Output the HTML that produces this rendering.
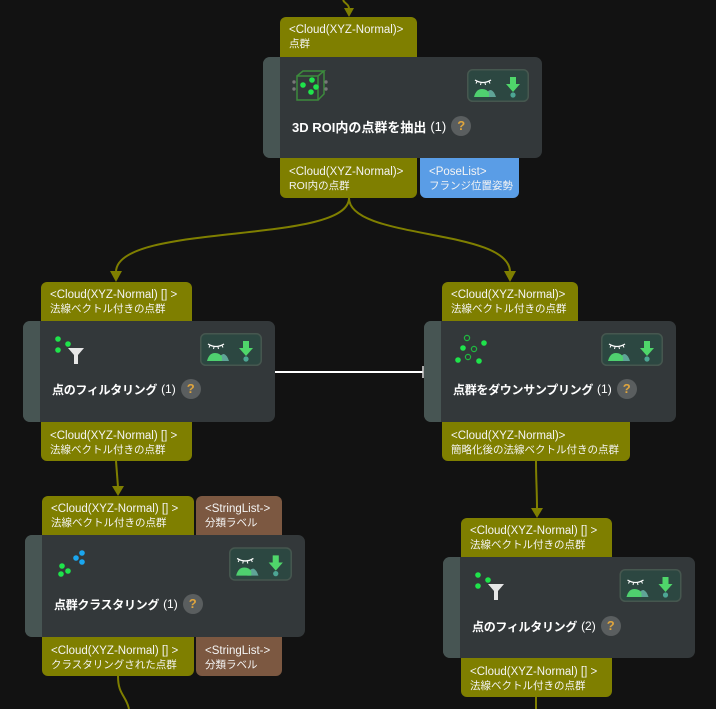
<!DOCTYPE html>
<html><head><meta charset="utf-8">
<style>
html,body{margin:0;padding:0;background:#121212;}
#c{position:relative;width:716px;height:709px;overflow:hidden;background:#121212;font-family:"Liberation Sans","Noto Sans CJK JP",sans-serif;color:#fff;}
.node{position:absolute;background:#33383a;border-radius:7px;overflow:hidden;}
.stripe{position:absolute;left:0;top:0;bottom:0;width:17px;background:#475553;}
.lbl{position:absolute;color:#f4f4f4;}
.olive{background:#7f7f00;}
.blue{background:#5a9de6;}
.brown{background:#7c5841;}
.top{border-radius:6px 6px 0 0;}
.bot{border-radius:0 0 6px 6px;}
.l1{position:absolute;left:9px;font-size:11.5px;line-height:14px;white-space:nowrap;}
.l2{position:absolute;left:9px;font-size:10.5px;line-height:14px;white-space:nowrap;}
.top .l1{top:6px}.top .l2{top:20px}
.bot .l1{top:7px}.bot .l2{top:21px}
.title{position:absolute;display:flex;align-items:center;height:20px;font-weight:bold;font-size:12px;letter-spacing:-0.3px;white-space:nowrap;color:#fff;}
.title .n{font-weight:normal;font-size:12px;letter-spacing:0;margin-left:4px;}
.q{display:inline-block;margin-left:5px;width:20px;height:20px;border-radius:50%;background:#5a5e5f;color:#dfa53e;font-weight:bold;font-size:13px;line-height:20px;text-align:center;letter-spacing:0;}
svg{position:absolute;}
</style></head><body>
<div id="c">
<svg width="716" height="709" style="left:0;top:0" viewBox="0 0 716 709">
 <g fill="none" stroke="#7f7f00" stroke-width="2">
  <path d="M343,0 C345,4 349,4 349,9"/>
  <path d="M349,198 C349,245 116,222 116,272"/>
  <path d="M349,198 C349,240 510,228 510,272"/>
  <path d="M116,461 L118,487"/>
  <path d="M536,461 C536,480 537,490 537,509"/>
  <path d="M118,676 C118,695 126,695 129,709"/>
  <path d="M536,697 L536,709"/>
 </g>
 <g fill="#7f7f00">
  <polygon points="344,8 354,8 349,17"/>
  <polygon points="110,271 122,271 116,282"/>
  <polygon points="504,271 516,271 510,282"/>
  <polygon points="112,486 124,486 118,496"/>
  <polygon points="531,508 543,508 537,518"/>
 </g>
 <line x1="275" y1="372" x2="423" y2="372" stroke="#fff" stroke-width="2"/>
 <line x1="423" y1="366" x2="423" y2="378" stroke="#ddd" stroke-width="1.5"/>
</svg>

<!-- Node 1 -->
<div class="lbl olive top" style="left:280px;top:17px;width:137px;height:40px;"><div class="l1">&lt;Cloud(XYZ-Normal)&gt;</div><div class="l2">点群</div></div>
<div class="node" style="left:263px;top:57px;width:279px;height:101px;"><div class="stripe"></div></div>
<div class="lbl olive bot" style="left:280px;top:158px;width:137px;height:40px;"><div class="l1">&lt;Cloud(XYZ-Normal)&gt;</div><div class="l2">ROI内の点群</div></div>
<div class="lbl blue bot" style="left:420px;top:158px;width:99px;height:40px;"><div class="l1">&lt;PoseList&gt;</div><div class="l2">フランジ位置姿勢</div></div>
<svg style="left:292px;top:69px" width="36" height="33" viewBox="0 0 36 33">
 <g fill="none" stroke="#3c8b3c" stroke-width="1.5">
  <rect x="5" y="7" width="21" height="24"/>
  <path d="M5,7 L11,2 L32,2 L26,7 M32,2 L32,25 L26,31"/>
 </g>
 <circle cx="2" cy="13" r="1.7" fill="#777"/><circle cx="2" cy="20" r="1.7" fill="#777"/>
 <circle cx="34" cy="13" r="1.7" fill="#777"/><circle cx="34" cy="20" r="1.7" fill="#777"/>
 <g fill="#1fe34b"><circle cx="11" cy="16" r="2.8"/><circle cx="20" cy="11" r="2.8"/><circle cx="24" cy="18" r="2.8"/><circle cx="19" cy="23" r="2.8"/></g>
</svg>
<svg style="left:467px;top:69px" width="62" height="33" viewBox="0 0 62 33">
 <rect x="0.75" y="0.75" width="60.5" height="31.5" rx="5" fill="#2c4741" stroke="#46574f" stroke-width="1.5"/>
 <path d="M8,11 Q16,16 24,11" stroke="#fff" fill="none" stroke-width="1.3"/>
 <path d="M10,12.5 L9,14.5 M14,14 L13.5,16 M18,14 L18.5,16 M22,12.5 L23,14.5" stroke="#fff" stroke-width="1"/>
 <path d="M18,28 Q20,21 24,21 Q27,22 29,28 Z" fill="#5fa497"/>
 <path d="M7,28 Q9,20 15,20 Q20,20 22,24 L22,28 Z" fill="#4fd06f"/>
 <path d="M43,8 h6 v7 h4 l-7,8 l-7,-8 h4 z" fill="#4fd66a"/>
 <circle cx="46" cy="26" r="2.6" fill="#4da594"/>
</svg>
<div class="title" style="left:292px;top:116px;font-size:13px;letter-spacing:0;">3D ROI内の点群を抽出<span class="n" style="font-size:13px;">(1)</span><span class="q">?</span></div>

<!-- Node 2 -->
<div class="lbl olive top" style="left:41px;top:282px;width:151px;height:39px;"><div class="l1">&lt;Cloud(XYZ-Normal) [] &gt;</div><div class="l2">法線ベクトル付きの点群</div></div>
<div class="node" style="left:23px;top:321px;width:252px;height:101px;"><div class="stripe"></div></div>
<div class="lbl olive bot" style="left:41px;top:422px;width:151px;height:39px;"><div class="l1">&lt;Cloud(XYZ-Normal) [] &gt;</div><div class="l2">法線ベクトル付きの点群</div></div>
<svg style="left:53px;top:334px" width="34" height="32" viewBox="0 0 34 32">
 <g fill="#1fe34b"><circle cx="5" cy="5" r="2.8"/><circle cx="15" cy="10" r="2.8"/><circle cx="5" cy="16" r="2.8"/></g>
 <path d="M15,14 L31,14 L25,21 L25,30 L21,30 L21,21 Z" fill="#e6e6e6"/>
</svg>
<svg style="left:200px;top:333px" width="62" height="33" viewBox="0 0 62 33">
 <rect x="0.75" y="0.75" width="60.5" height="31.5" rx="5" fill="#2c4741" stroke="#46574f" stroke-width="1.5"/>
 <path d="M8,11 Q16,16 24,11" stroke="#fff" fill="none" stroke-width="1.3"/>
 <path d="M10,12.5 L9,14.5 M14,14 L13.5,16 M18,14 L18.5,16 M22,12.5 L23,14.5" stroke="#fff" stroke-width="1"/>
 <path d="M18,28 Q20,21 24,21 Q27,22 29,28 Z" fill="#5fa497"/>
 <path d="M7,28 Q9,20 15,20 Q20,20 22,24 L22,28 Z" fill="#4fd06f"/>
 <path d="M43,8 h6 v7 h4 l-7,8 l-7,-8 h4 z" fill="#4fd66a"/>
 <circle cx="46" cy="26" r="2.6" fill="#4da594"/>
</svg>
<div class="title" style="left:52px;top:379px;">点のフィルタリング<span class="n">(1)</span><span class="q">?</span></div>

<!-- Node 3 -->
<div class="lbl olive top" style="left:442px;top:282px;width:136px;height:39px;"><div class="l1">&lt;Cloud(XYZ-Normal)&gt;</div><div class="l2">法線ベクトル付きの点群</div></div>
<div class="node" style="left:424px;top:321px;width:252px;height:101px;"><div class="stripe"></div></div>
<div class="lbl olive bot" style="left:442px;top:422px;width:188px;height:39px;"><div class="l1">&lt;Cloud(XYZ-Normal)&gt;</div><div class="l2">簡略化後の法線ベクトル付きの点群</div></div>
<svg style="left:450px;top:332px" width="40" height="36" viewBox="0 0 40 36">
 <g fill="#1fe34b"><circle cx="13" cy="16" r="2.8"/><circle cx="34" cy="11" r="2.8"/><circle cx="8" cy="28" r="2.8"/><circle cx="29" cy="29" r="2.8"/></g>
 <g fill="none" stroke="#1fb940" stroke-width="1.2"><circle cx="17" cy="6" r="2.6"/><circle cx="24" cy="17" r="2.6"/><circle cx="18" cy="25" r="2.6"/></g>
</svg>
<svg style="left:601px;top:333px" width="62" height="33" viewBox="0 0 62 33">
 <rect x="0.75" y="0.75" width="60.5" height="31.5" rx="5" fill="#2c4741" stroke="#46574f" stroke-width="1.5"/>
 <path d="M8,11 Q16,16 24,11" stroke="#fff" fill="none" stroke-width="1.3"/>
 <path d="M10,12.5 L9,14.5 M14,14 L13.5,16 M18,14 L18.5,16 M22,12.5 L23,14.5" stroke="#fff" stroke-width="1"/>
 <path d="M18,28 Q20,21 24,21 Q27,22 29,28 Z" fill="#5fa497"/>
 <path d="M7,28 Q9,20 15,20 Q20,20 22,24 L22,28 Z" fill="#4fd06f"/>
 <path d="M43,8 h6 v7 h4 l-7,8 l-7,-8 h4 z" fill="#4fd66a"/>
 <circle cx="46" cy="26" r="2.6" fill="#4da594"/>
</svg>
<div class="title" style="left:453px;top:379px;">点群をダウンサンプリング<span class="n">(1)</span><span class="q">?</span></div>

<!-- Node 4 -->
<div class="lbl olive top" style="left:42px;top:496px;width:152px;height:39px;"><div class="l1">&lt;Cloud(XYZ-Normal) [] &gt;</div><div class="l2">法線ベクトル付きの点群</div></div>
<div class="lbl brown top" style="left:196px;top:496px;width:86px;height:39px;"><div class="l1">&lt;StringList-&gt;</div><div class="l2">分類ラベル</div></div>
<div class="node" style="left:25px;top:535px;width:280px;height:102px;"><div class="stripe"></div></div>
<div class="lbl olive bot" style="left:42px;top:637px;width:152px;height:39px;"><div class="l1">&lt;Cloud(XYZ-Normal) [] &gt;</div><div class="l2">クラスタリングされた点群</div></div>
<div class="lbl brown bot" style="left:196px;top:637px;width:86px;height:39px;"><div class="l1">&lt;StringList-&gt;</div><div class="l2">分類ラベル</div></div>
<svg style="left:55px;top:548px" width="34" height="30" viewBox="0 0 34 30">
 <g fill="#1aa6ef"><circle cx="27" cy="5" r="2.8"/><circle cx="21" cy="10" r="2.8"/><circle cx="27" cy="14" r="2.8"/></g>
 <g fill="#1fe34b"><circle cx="7" cy="18" r="2.8"/><circle cx="13" cy="23" r="2.8"/><circle cx="6" cy="26" r="2.8"/></g>
</svg>
<svg style="left:229px;top:547px" width="63" height="34" viewBox="0 0 62 33">
 <rect x="0.75" y="0.75" width="60.5" height="31.5" rx="5" fill="#2c4741" stroke="#46574f" stroke-width="1.5"/>
 <path d="M8,11 Q16,16 24,11" stroke="#fff" fill="none" stroke-width="1.3"/>
 <path d="M10,12.5 L9,14.5 M14,14 L13.5,16 M18,14 L18.5,16 M22,12.5 L23,14.5" stroke="#fff" stroke-width="1"/>
 <path d="M18,28 Q20,21 24,21 Q27,22 29,28 Z" fill="#5fa497"/>
 <path d="M7,28 Q9,20 15,20 Q20,20 22,24 L22,28 Z" fill="#4fd06f"/>
 <path d="M43,8 h6 v7 h4 l-7,8 l-7,-8 h4 z" fill="#4fd66a"/>
 <circle cx="46" cy="26" r="2.6" fill="#4da594"/>
</svg>
<div class="title" style="left:54px;top:594px;">点群クラスタリング<span class="n">(1)</span><span class="q">?</span></div>

<!-- Node 5 -->
<div class="lbl olive top" style="left:461px;top:518px;width:151px;height:39px;"><div class="l1">&lt;Cloud(XYZ-Normal) [] &gt;</div><div class="l2">法線ベクトル付きの点群</div></div>
<div class="node" style="left:443px;top:557px;width:252px;height:101px;"><div class="stripe"></div></div>
<div class="lbl olive bot" style="left:461px;top:658px;width:151px;height:39px;"><div class="l1">&lt;Cloud(XYZ-Normal) [] &gt;</div><div class="l2">法線ベクトル付きの点群</div></div>
<svg style="left:473px;top:570px" width="34" height="32" viewBox="0 0 34 32">
 <g fill="#1fe34b"><circle cx="5" cy="5" r="2.8"/><circle cx="15" cy="10" r="2.8"/><circle cx="5" cy="16" r="2.8"/></g>
 <path d="M15,14 L31,14 L25,21 L25,30 L21,30 L21,21 Z" fill="#e6e6e6"/>
</svg>
<svg style="left:619px;top:569px" width="63" height="33" viewBox="0 0 62 33">
 <rect x="0.75" y="0.75" width="60.5" height="31.5" rx="5" fill="#2c4741" stroke="#46574f" stroke-width="1.5"/>
 <path d="M8,11 Q16,16 24,11" stroke="#fff" fill="none" stroke-width="1.3"/>
 <path d="M10,12.5 L9,14.5 M14,14 L13.5,16 M18,14 L18.5,16 M22,12.5 L23,14.5" stroke="#fff" stroke-width="1"/>
 <path d="M18,28 Q20,21 24,21 Q27,22 29,28 Z" fill="#5fa497"/>
 <path d="M7,28 Q9,20 15,20 Q20,20 22,24 L22,28 Z" fill="#4fd06f"/>
 <path d="M43,8 h6 v7 h4 l-7,8 l-7,-8 h4 z" fill="#4fd66a"/>
 <circle cx="46" cy="26" r="2.6" fill="#4da594"/>
</svg>
<div class="title" style="left:472px;top:616px;">点のフィルタリング<span class="n">(2)</span><span class="q">?</span></div>
</div>
</body></html>
